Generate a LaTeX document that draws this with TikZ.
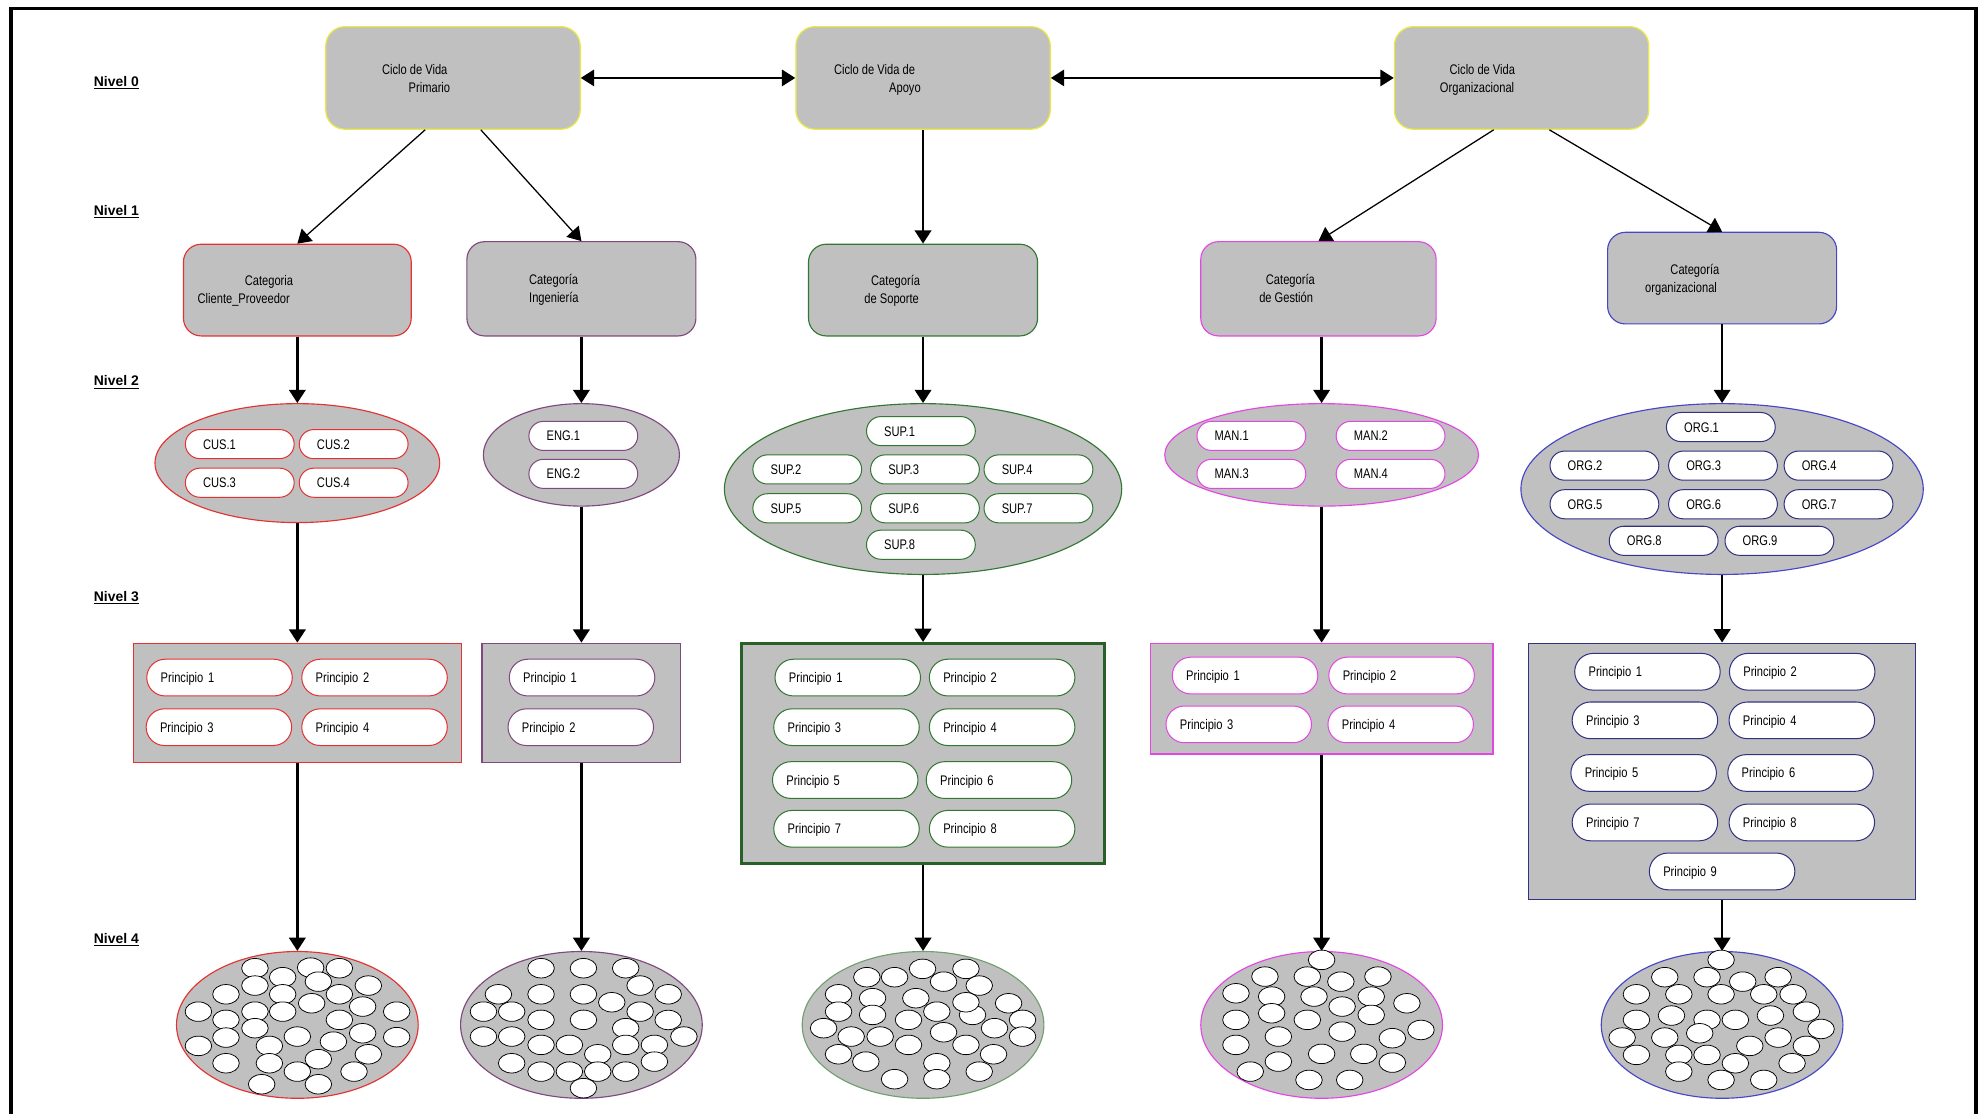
\documentclass[tikz,border=0pt]{standalone}
\usepackage{fontspec}
\setmainfont{Liberation Sans}
\newfontfamily\narrowfont{Liberation Sans}[FakeStretch=0.8]
\usetikzlibrary{arrows.meta,shapes.geometric}

\definecolor{silver}{RGB}{192,192,192}
\definecolor{cyel}{RGB}{232,232,70}
\definecolor{cred}{RGB}{228,50,50}
\definecolor{cpur}{RGB}{128,72,128}
\definecolor{cgrn}{RGB}{50,120,50}
\definecolor{cmag}{RGB}{228,70,228}
\definecolor{cblu}{RGB}{70,70,200}
\definecolor{cnavy}{RGB}{50,50,130}

\tikzset{
  txt/.style={font=\narrowfont\fontsize{11}{12}\selectfont, inner sep=0pt, anchor=base west},
  lvl/.style={font=\bfseries\fontsize{11}{12}\selectfont, inner sep=0pt, anchor=base west},
  box0/.style={draw=cyel, fill=silver, rounded corners=15pt, minimum width=201pt, minimum height=81pt, line width=1pt, inner sep=0pt},
  box1/.style={fill=silver, rounded corners=14pt, line width=0.9pt, inner sep=0pt},
  grp/.style={ellipse, fill=silver, inner sep=0pt, line width=0.9pt},
  prin/.style={rectangle, fill=silver, inner sep=0pt, line width=1pt},
  leaf/.style={ellipse, fill=silver, minimum width=191pt, minimum height=116pt, inner sep=0pt, line width=0.9pt},
  pillA/.style={fill=white, rounded corners=11.5pt, minimum height=23pt, text width=58pt, inner xsep=14pt, inner ysep=0pt, align=left, line width=0.8pt, text height=7.9pt, text depth=0pt, font=\narrowfont\fontsize{11}{12}\selectfont},
  pillB/.style={fill=white, rounded corners=14.5pt, minimum height=29pt, text width=93pt, inner xsep=11pt, inner ysep=0pt, align=left, line width=0.8pt, text height=7.9pt, text depth=0pt, font=\narrowfont\fontsize{11}{12}\selectfont},
  dot/.style={fill=white, draw=black, line width=0.6pt},
  conn/.style={-{Triangle[length=10.5pt,width=13pt]}, line width=2pt},
  slant/.style={-{Triangle[length=10.5pt,width=13pt]}, line width=1pt},
  twoway/.style={{Triangle[length=10.5pt,width=13pt]}-{Triangle[length=10.5pt,width=13pt]}, line width=1.2pt},
}

\begin{document}
\begin{tikzpicture}[x=1pt,y=-1pt]
\useasboundingbox (0,0) rectangle (1568,880);

% outer frame (open at the bottom)
\draw[line width=2pt] (8.8,6.6) -- (1562,6.6);
\draw[line width=3.2pt] (8.8,900) -- (8.8,5.6);
\draw[line width=3.2pt] (1562,900) -- (1562,5.6);

% level labels
\node[lvl] (n0) at (74,68.5) {\underline{Nivel 0}};
\node[lvl] (n1) at (74,170.5) {\underline{Nivel 1}};
\node[lvl] (n2) at (74,305) {\underline{Nivel 2}};
\node[lvl] (n3) at (74,475) {\underline{Nivel 3}};
\node[lvl] (n4) at (74,745.6) {\underline{Nivel 4}};

% ---------- level 0 ----------
\node[box0] (A) at (358,61.6) {};
\node[box0] (B) at (729.5,61.6) {};
\node[box0] (C) at (1202.5,61.6) {};
\node[txt] (tA1) at (301.7,59.1) {Ciclo de Vida};
\node[txt] (tA2) at (322.8,72.8) {Primario};
\node[txt] (tB1) at (659,59.1) {Ciclo de Vida de};
\node[txt] (tB2) at (702.5,72.8) {Apoyo};
\node[txt] (tC1) at (1145.5,59.1) {Ciclo de Vida};
\node[txt] (tC2) at (1137.8,72.8) {Organizacional};

\draw[twoway] (A.east) -- (B.west);
\draw[twoway] (B.east) -- (C.west);

% ---------- level 1 ----------
\node[box1, draw=cred, minimum width=180pt, minimum height=72.5pt] (CP) at (235,229.25) {};
\node[box1, draw=cpur, minimum width=181pt, minimum height=74.5pt] (ING) at (459.5,228.25) {};
\node[box1, draw=cgrn, minimum width=181pt, minimum height=72.5pt] (SOP) at (729.5,229.25) {};
\node[box1, draw=cmag, minimum width=186pt, minimum height=74.5pt] (GES) at (1042,228.25) {};
\node[box1, draw=cblu, minimum width=181pt, minimum height=72.4pt] (ORG) at (1361,219.8) {};

\node[txt] (tCP1) at (193.3,225.6) {Categoria};
\node[txt] (tCP2) at (156,240.1) {Cliente\_Proveedor};
\node[txt] (tIN1) at (418,224.6) {Categoría};
\node[txt] (tIN2) at (418,239.1) {Ingeniería};
\node[txt] (tSO1) at (688.3,225.8) {Categoría};
\node[txt] (tSO2) at (683,240.1) {de Soporte};
\node[txt] (tGE1) at (1000.3,224.6) {Categoría};
\node[txt] (tGE2) at (995,239.1) {de Gestión};
\node[txt] (tOR1) at (1320,216.7) {Categoría};
\node[txt] (tOR2) at (1300,230.8) {organizacional};

\draw[slant] ([xshift=-22pt]A.south) -- (CP.north);
\draw[slant] ([xshift=22pt]A.south) -- (ING.north);
\draw[conn] (B.south) -- (SOP.north);
\draw[slant] ([xshift=-22pt]C.south) -- (GES.north);
\draw[slant] ([xshift=22pt]C.south) -- (ORG.north);

% ---------- level 2 ----------
\node[grp, draw=cred, minimum width=225pt, minimum height=94pt] (cusE) at (235,366) {};
\node[grp, draw=cpur, minimum width=155pt, minimum height=81pt] (engE) at (459.5,359.5) {};
\node[grp, draw=cgrn, minimum width=314pt, minimum height=135pt] (supE) at (729.5,386.5) {};
\node[grp, draw=cmag, minimum width=248pt, minimum height=81pt] (manE) at (1044.5,359.5) {};
\node[grp, draw=cblu, minimum width=318pt, minimum height=135pt] (orgE) at (1361,386.5) {};

\node[pillA, draw=cred] (cus1) at (189.5,351) {CUS.1};
\node[pillA, draw=cred] (cus2) at (279.5,351) {CUS.2};
\node[pillA, draw=cred] (cus3) at (189.5,381.5) {CUS.3};
\node[pillA, draw=cred] (cus4) at (279.5,381.5) {CUS.4};

\node[pillA, draw=cpur] (eng1) at (461,344.5) {ENG.1};
\node[pillA, draw=cpur] (eng2) at (461,374.5) {ENG.2};

\node[pillA, draw=cgrn] (sup1) at (727.8,340.7) {SUP.1};
\node[pillA, draw=cgrn] (sup2) at (638,371) {SUP.2};
\node[pillA, draw=cgrn] (sup3) at (731,371) {SUP.3};
\node[pillA, draw=cgrn] (sup4) at (820.7,371) {SUP.4};
\node[pillA, draw=cgrn] (sup5) at (638,401.7) {SUP.5};
\node[pillA, draw=cgrn] (sup6) at (731,401.7) {SUP.6};
\node[pillA, draw=cgrn] (sup7) at (820.7,401.7) {SUP.7};
\node[pillA, draw=cgrn] (sup8) at (727.8,430.5) {SUP.8};

\node[pillA, draw=cmag] (man1) at (989,344.5) {MAN.1};
\node[pillA, draw=cmag] (man2) at (1099,344.5) {MAN.2};
\node[pillA, draw=cmag] (man3) at (989,374.5) {MAN.3};
\node[pillA, draw=cmag] (man4) at (1099,374.5) {MAN.4};

\node[pillA, draw=cnavy] (org1) at (1360,337.5) {ORG.1};
\node[pillA, draw=cnavy] (org2) at (1268,368) {ORG.2};
\node[pillA, draw=cnavy] (org3) at (1361.7,368) {ORG.3};
\node[pillA, draw=cnavy] (org4) at (1453,368) {ORG.4};
\node[pillA, draw=cnavy] (org5) at (1268,398.5) {ORG.5};
\node[pillA, draw=cnavy] (org6) at (1361.7,398.5) {ORG.6};
\node[pillA, draw=cnavy] (org7) at (1453,398.5) {ORG.7};
\node[pillA, draw=cnavy] (org8) at (1314.8,427.4) {ORG.8};
\node[pillA, draw=cnavy] (org9) at (1406.3,427.4) {ORG.9};

\draw[conn] (CP.south) -- (cusE.north);
\draw[conn] (ING.south) -- (engE.north);
\draw[conn] (SOP.south) -- (supE.north);
\draw[conn] (manE.north |- GES.south) -- (manE.north);
\draw[conn] (ORG.south) -- (orgE.north);

% ---------- level 3 ----------
\node[prin, draw=cred, minimum width=259.3pt, minimum height=94.4pt] (cusR) at (235,555.6) {};
\node[prin, draw=cpur, minimum width=157pt, minimum height=94.4pt] (engR) at (459.5,555.6) {};
\node[prin, draw=cgrn!80!black, line width=2pt, minimum width=286.8pt, minimum height=174.2pt] (supR) at (729.5,595.5) {};
\node[prin, draw=cmag, minimum width=271pt, minimum height=87.6pt] (manR) at (1044.5,552.2) {};
\node[prin, draw=cnavy, line width=1.2pt, minimum width=306pt, minimum height=202.6pt] (orgR) at (1361,609.7) {};

\node[pillB, draw=cred] (cp1) at (173.5,535.5) {Principio 1};
\node[pillB, draw=cred] (cp2) at (296,535.5) {Principio 2};
\node[pillB, draw=cred] (cp3) at (173,574.7) {Principio 3};
\node[pillB, draw=cred] (cp4) at (296,574.7) {Principio 4};

\node[pillB, draw=cpur] (ep1) at (460,535.5) {Principio 1};
\node[pillB, draw=cpur] (ep2) at (459,574.7) {Principio 2};

\node[pillB, draw=cgrn] (sp1) at (670,535.5) {Principio 1};
\node[pillB, draw=cgrn] (sp2) at (792,535.5) {Principio 2};
\node[pillB, draw=cgrn] (sp3) at (669,574.7) {Principio 3};
\node[pillB, draw=cgrn] (sp4) at (792,574.7) {Principio 4};
\node[pillB, draw=cgrn] (sp5) at (668,616.5) {Principio 5};
\node[pillB, draw=cgrn] (sp6) at (789.5,616.5) {Principio 6};
\node[pillB, draw=cgrn] (sp7) at (669,655) {Principio 7};
\node[pillB, draw=cgrn] (sp8) at (792,655) {Principio 8};

\node[pillB, draw=cmag] (mp1) at (984,533.9) {Principio 1};
\node[pillB, draw=cmag] (mp2) at (1107.7,533.9) {Principio 2};
\node[pillB, draw=cmag] (mp3) at (979,572.5) {Principio 3};
\node[pillB, draw=cmag] (mp4) at (1107,572.5) {Principio 4};

\node[pillB, draw=cnavy] (op1) at (1302,530.9) {Principio 1};
\node[pillB, draw=cnavy] (op2) at (1424.3,530.9) {Principio 2};
\node[pillB, draw=cnavy] (op3) at (1300,569.3) {Principio 3};
\node[pillB, draw=cnavy] (op4) at (1424,569.3) {Principio 4};
\node[pillB, draw=cnavy] (op5) at (1299,610.9) {Principio 5};
\node[pillB, draw=cnavy] (op6) at (1423,610.9) {Principio 6};
\node[pillB, draw=cnavy] (op7) at (1300,650) {Principio 7};
\node[pillB, draw=cnavy] (op8) at (1424,650) {Principio 8};
\node[pillB, draw=cnavy] (op9) at (1361,688.7) {Principio 9};

\draw[conn] (cusE.south) -- (cusR.north);
\draw[conn] (engE.south) -- (engR.north);
\draw[conn] (supE.south) -- (supR.north);
\draw[conn] (manE.south) -- (manR.north);
\draw[conn] (orgE.south) -- (orgR.north);

% ---------- level 4 ----------
\node[leaf, draw=cred] (cusL) at (235,810) {};
\node[leaf, draw=cpur] (engL) at (459.5,810) {};
\node[leaf, draw=cgrn!70!white] (supL) at (729.5,810) {};
\node[leaf, draw=cmag] (manL) at (1044.5,810) {};
\node[leaf, draw=cblu] (orgL) at (1361,810) {};

\draw[conn] (cusR.south) -- (cusL.north);
\draw[conn] (engR.south) -- (engL.north);
\draw[conn] (supR.south) -- (supL.north);
\draw[conn] (manR.south) -- (manL.north);
\draw[conn] (orgR.south) -- (orgL.north);

% practices inside each process area
\begin{scope}[shift={(cusL.center)}]
\foreach \u/\v in {-33.5/-44.8, 10.5/-45.3, 33.2/-44.8, -11.6/-37.7, 16.6/-34.2,
  -33.5/-31.1, 56.1/-31.1, -56.4/-24.2, -11.6/-24.2, 33.2/-24.2, 11.3/-17.1,
  51.6/-14.5, -78.2/-10.5, -33.5/-10.5, -11.6/-10.5, 78.5/-10.5, -56.4/-4,
  33.2/-4, -33.5/2.6, 51.6/6.6, 0/9.2, 78.5/9.7, -56.4/10, 28.5/13.2,
  -78.2/16.6, -22.1/16.6, 56.1/23.2, 16.6/27.1, -56.4/30.3, -22.1/30.3,
  0/36.9, 44.8/36.9, -28.2/46.9, 16.6/46.9}
  \filldraw[dot] (\u,\v) ellipse [x radius=10.5pt, y radius=7.7pt];
\end{scope}

\begin{scope}[shift={(engL.center)}]
\foreach \u/\v in {-31.9/-44.8, 1.6/-44.8, 35/-44.8, 46.4/-31.1, -65.6/-24.2,
  -31.9/-24.2, 1.6/-24.2, 68.6/-24.2, 24/-17.9, -77.4/-10.5, -55.1/-10.5,
  46.4/-10.5, -31.9/-4, 1.6/-4, 68.6/-3.9, 35/2.6, -77.4/9.2, -55.1/9.2,
  81/9.2, -31.9/15.8, -9.5/15.8, 35/15.8, 57.7/15.8, 12.9/23.2, 57.7/29,
  -55.1/30.3, -31.9/36.9, -9.5/36.9, 12.9/36.9, 35/36.9, 1.6/50}
  \filldraw[dot] (\u,\v) ellipse [x radius=10.5pt, y radius=7.7pt];
\end{scope}

\begin{scope}[shift={(supL.center)}]
\foreach \u/\v in {-44.4/-37.7, -22.5/-37.7, -0.4/-44.3, 33.9/-44.3, 16.2/-34.2,
  44.4/-31.1, -66.8/-24.2, -39.9/-21.1, -5.7/-21.1, 67.6/-17.1, -66.8/-10.5,
  -39.9/-7.9, 39.1/-7.9, 10.9/-10.5, 33.9/-17.9, 78.6/-4, -78.6/2.6,
  -11.5/-4, 56.5/2.6, 78.6/9.2, -56.8/9.2, -33.9/9.2, 16.2/5.8, -11.5/15.8,
  33.9/15.8, -66.8/23.2, -45.2/29, 55.7/23.2, 10.9/30.3, 44.4/36.9,
  -22.5/42.9, 10.9/42.9}
  \filldraw[dot] (\u,\v) ellipse [x radius=10.5pt, y radius=7.7pt];
\end{scope}

\begin{scope}[shift={(manL.center)}]
\foreach \u/\v in {0/-51.4, -44.8/-38.2, -11.3/-38.2, 15.2/-34.2, 44.5/-38.2,
  -67.7/-25, -39.5/-22.4, -6/-22.4, 16.2/-14.5, 39.2/-22.4, 67.4/-17.1,
  -67.7/-4, -39.5/-9.2, -11.3/-4, 39.2/-7.9, 16.2/5.3, 55.9/10.5, 78.5/4,
  -34.2/9.2, -67.7/15.8, 0/22.9, 33.3/22.9, -34.2/29, 55.9/29.8,
  -56.4/36.9, -10/43.5, 22.2/43.5}
  \filldraw[dot] (\u,\v) ellipse [x radius=10.5pt, y radius=7.7pt];
\end{scope}

\begin{scope}[shift={(orgL.center)}]
\foreach \u/\v in {-0.8/-51.4, -45.3/-37.7, -11.9/-37.7, 16.3/-34.2, 44.3/-37.7,
  -67.7/-24.2, -34.2/-24.2, -0.8/-24.2, 32.9/-24.2, 56.1/-24.2, 66.6/-10.5,
  -67.7/-4, -40/-7.4, -11.9/-4, 10.5/-4, 38.2/-7.4, 78.2/3.2, -79/10,
  -45.3/10, -17.7/6.6, 44.3/10, 21.9/16.6, 66.6/16.6, -67.7/23.7,
  -34.2/23.7, -11.9/23.7, 10.5/30.3, 55.3/30.3, -34.2/36.9, -0.8/43.5,
  32.9/43.5}
  \filldraw[dot] (\u,\v) ellipse [x radius=10.5pt, y radius=7.7pt];
\end{scope}

\end{tikzpicture}
\end{document}
